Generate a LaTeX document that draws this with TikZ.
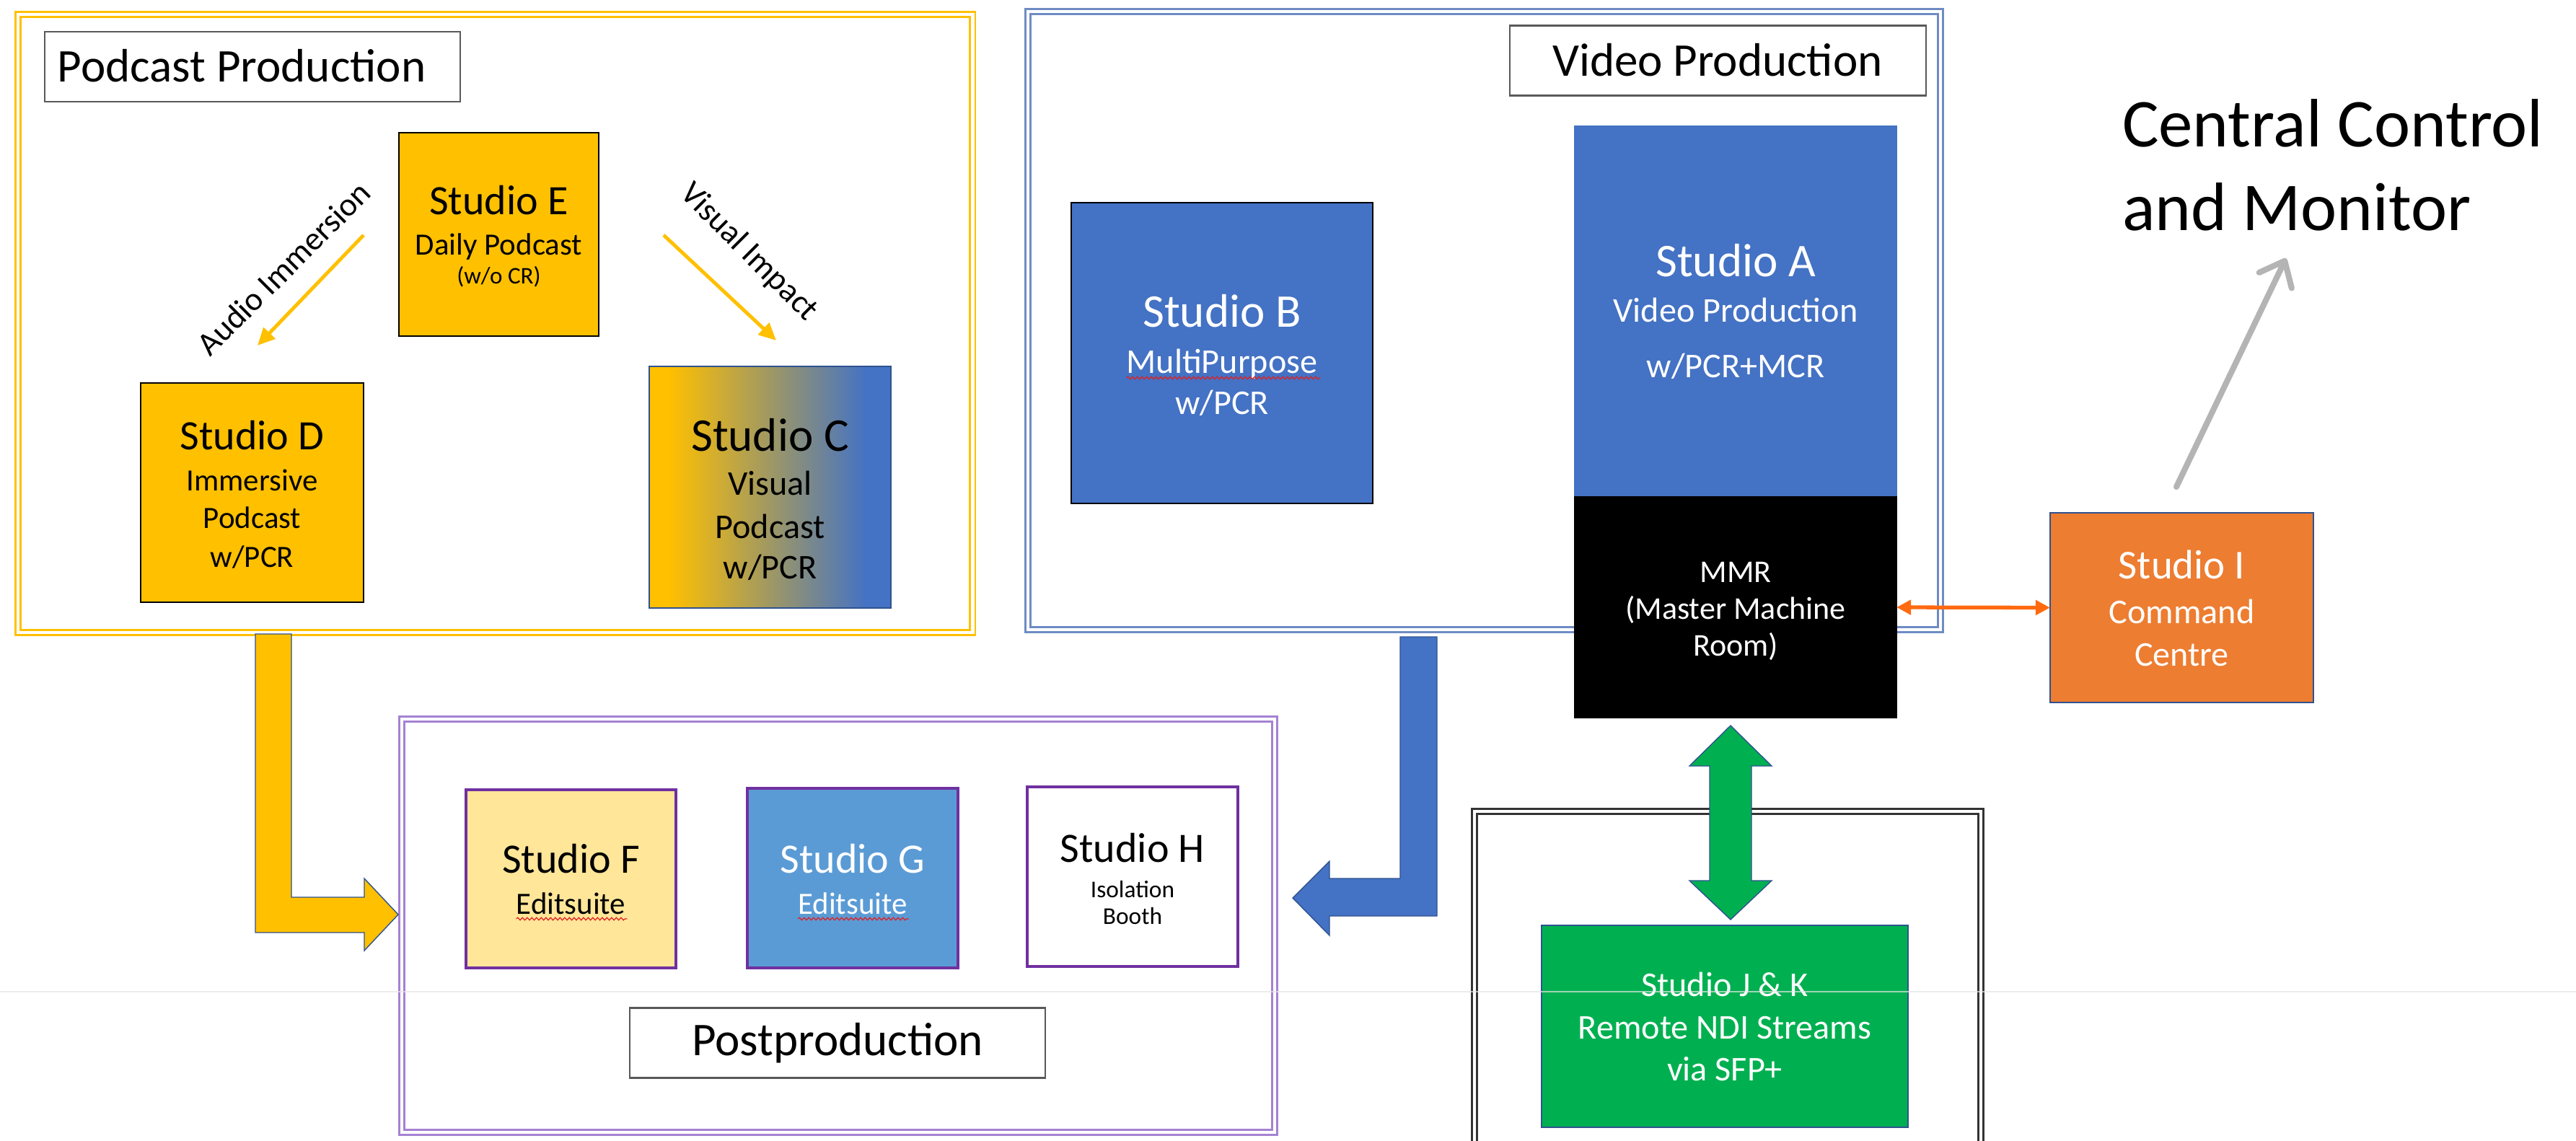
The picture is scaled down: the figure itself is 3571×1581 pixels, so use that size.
\documentclass[tikz,border=0pt]{standalone}
\usepackage{fontspec}
\setmainfont{Carlito}
\usetikzlibrary{arrows.meta,decorations.pathmorphing,calc}

\definecolor{podyellow}{HTML}{FFC000}
\definecolor{vidblue}{HTML}{4472C4}
\definecolor{edgeblue}{HTML}{2F528F}
\definecolor{editblue}{HTML}{5B9BD5}
\definecolor{editcream}{HTML}{FFE699}
\definecolor{editpurple}{HTML}{7030A0}
\definecolor{postlilac}{HTML}{A582D2}
\definecolor{vidframe}{HTML}{6F8BC4}
\definecolor{cmdorange}{HTML}{ED7D31}
\definecolor{linkorange}{HTML}{FF6A10}
\definecolor{ndigreen}{HTML}{00B050}
\definecolor{monitorgray}{HTML}{B4B4B4}
\definecolor{labelgray}{HTML}{595959}
\definecolor{squiggle}{HTML}{E02020}

% yellow-to-blue fill of the visual podcast studio (path spans 25bp..75bp)
\pgfdeclarehorizontalshading{podvis}{100bp}{color(0bp)=(podyellow); color(29bp)=(podyellow); color(70bp)=(vidblue); color(100bp)=(vidblue)}

\newcommand{\fsz}[1]{\fontsize{#1}{#1}\selectfont}

\begin{document}
\begin{tikzpicture}[x=0.01cm,y=-0.01cm,
  frame/.style={double=white, inner sep=0pt, outer sep=0pt, line width=0.8pt, double distance=1.2pt},
  room/.style={draw, inner sep=0pt, outer sep=0pt, line width=0.7pt},
  tag/.style={draw=labelgray, fill=white, line width=0.6pt, inner sep=0pt, minimum width=5.76cm, minimum height=0.97cm},
  txt/.style={inner sep=0pt, outer sep=0pt, anchor=base},
  sizeA/.style={font=\fsz{18.5pt}},
  sizeB/.style={font=\fsz{16.5pt}},
  sizeC/.style={font=\fsz{13.7pt}},
  sizeD/.style={font=\fsz{12.2pt}},
  sizeE/.style={font=\fsz{9.5pt}},
  thinarrow/.style={draw=podyellow, line width=1.4pt, -{Triangle[length=0.24cm,width=0.22cm]}},
  blockarrow/.style={draw=edgeblue, line width=0.4pt, line join=miter},
  wavy/.style={draw=squiggle, line width=0.35pt, decorate, decoration={snake, amplitude=0.018cm, segment length=0.065cm}},
]
\clip (0,0) rectangle (3571,1581);
\fill[white] (0,0) rectangle (3571,1581);

% ---------- Podcast production ----------
\node[frame, draw=podyellow, minimum width=13.23cm, minimum height=8.57cm] (podcast) at (686.5,448.5) {};
\node[tag] (podtag) at (350,92.5) {};
\node[txt, sizeA, anchor=base west] (podtagtext) at (80,113) {Podcast Production};

\node[room, draw=black, fill=podyellow, minimum width=2.77cm, minimum height=2.82cm] (E) at (691.5,325) {};
\node[txt,sizeB] (E1) at (691.5,297) {Studio E};
\node[txt,sizeD] (E2) at (691.5,353) {Daily Podcast};
\node[txt,font=\fsz{9.4pt}] (E3) at (691.5,393) {(w/o CR)};

\node[room, draw=black, fill=podyellow, minimum width=3.09cm, minimum height=3.04cm] (D) at (349.5,683) {};
\node[txt,sizeB] (D1) at (349.5,623) {Studio D};
\node[txt,sizeD] (D2) at (349.5,680) {Immersive};
\node[txt,sizeD] (D3) at (349.5,732) {Podcast};
\node[txt,sizeD] (D4) at (349.5,786) {w/PCR};

\node[room, draw=edgeblue, line width=0.5pt, shading=podvis, minimum width=3.35cm, minimum height=3.35cm] (C) at (1067.5,675.5) {};
\node[txt,sizeA] (C1) at (1067.5,625) {Studio C};
\node[txt,sizeC] (C2) at (1067.5,686) {Visual};
\node[txt,sizeC] (C3) at (1067.5,746) {Podcast};
\node[txt,sizeC] (C4) at (1067.5,802) {w/PCR};

\coordinate (ai0) at (504,326);
\coordinate (ai1) at (357,479);
\draw[thinarrow] (ai0) -- (ai1);
\node[font=\fsz{13pt}, rotate=45, inner sep=0pt] (ailabel) at (393,372) {Audio Immersion};
\coordinate (vi0) at (920,326);
\coordinate (vi1) at (1076,472);
\draw[thinarrow] (vi0) -- (vi1);
\node[font=\fsz{13pt}, rotate=-45, inner sep=0pt] (vilabel) at (1038,350) {Visual Impact};

% ---------- Video production ----------
\node[frame, draw=vidframe, minimum width=12.65cm, minimum height=8.57cm] (video) at (2057.5,444.5) {};
\node[tag] (vidtag) at (2381.5,84) {};
\node[txt,sizeA] (vidtagtext) at (2381,105) {Video Production};

\node[room, draw=black, fill=vidblue, minimum width=4.18cm, minimum height=4.17cm] (B) at (1694,489.5) {};
\node[txt,sizeA,text=white] (B1) at (1694,453) {Studio B};
\node[txt,sizeC,text=white] (B2) at (1694,517) {MultiPurpose};
\node[txt,sizeC,text=white] (B3) at (1694,574) {w/PCR};
\draw[wavy] ($(B2.base west)+(0,7)$) -- ($(B2.base east)+(4,7)$);

\node[room, draw=vidblue, fill=vidblue, minimum width=4.46cm, minimum height=5.14cm] (A) at (2406,432) {};
\node[txt,sizeA,text=white] (A1) at (2406,383) {Studio A};
\node[txt,sizeC,text=white] (A2) at (2406,446) {Video Production};
\node[txt,sizeC,text=white] (A3) at (2406,523) {w/PCR+MCR};

\node[room, draw=black, fill=black, minimum width=4.46cm, minimum height=3.06cm] (MMR) at (2406,842) {};
\node[txt,font=\fsz{12.5pt},text=white] (M1) at (2406,807) {MMR};
\node[txt,font=\fsz{12.5pt},text=white] (M2) at (2406,858) {(Master Machine};
\node[txt,font=\fsz{12.5pt},text=white] (M3) at (2406,909) {Room)};

% ---------- Command centre ----------
\node[room, draw=edgeblue, line width=0.5pt, fill=cmdorange, minimum width=3.65cm, minimum height=2.63cm] (I) at (3024.5,842.5) {};
\node[txt,font=\fsz{16.2pt},text=white] (I1) at (3024.5,802) {Studio I};
\node[txt,sizeC,text=white] (I2) at (3024.5,864) {Command};
\node[txt,sizeC,text=white] (I3) at (3024.5,923) {Centre};

\draw[draw=linkorange, line width=1.5pt, {Triangle[length=0.2cm,width=0.2cm]}-{Triangle[length=0.2cm,width=0.2cm]}] (MMR.east) -- (I.west);

\coordinate (mon0) at (3017,675);
\coordinate (mon1) at (3169,358);
\draw[monitorgray, line width=2.3pt, line cap=round, -{Straight Barb[length=0.3cm,width=0.5cm,round]}] (mon0) -- (mon1);
\node[txt, font=\fsz{27pt}, anchor=base west] (cc1) at (2942,203) {Central Control};
\node[txt, font=\fsz{27pt}, anchor=base west] (cc2) at (2942,319) {and Monitor};

% ---------- Postproduction ----------
\node[frame, draw=postlilac, minimum width=12.10cm, minimum height=5.73cm] (post) at (1162,1283.5) {};
\node[room, draw=editpurple, line width=1.2pt, fill=editcream, minimum width=2.91cm, minimum height=2.47cm] (F) at (791.5,1218.5) {};
\node[txt,sizeB] (F1) at (791.5,1210) {Studio F};
\node[txt,sizeD] (F2) at (791.5,1267) {Editsuite};
\draw[wavy] ($(F2.base west)+(0,7)$) -- ($(F2.base east)+(2,7)$);

\node[room, draw=editpurple, line width=1.2pt, fill=editblue, minimum width=2.92cm, minimum height=2.49cm] (G) at (1182,1217.5) {};
\node[txt,sizeB,text=white] (G1) at (1182,1210) {Studio G};
\node[txt,sizeD,text=white] (G2) at (1182,1267) {Editsuite};
\draw[wavy] ($(G2.base west)+(0,7)$) -- ($(G2.base east)+(2,7)$);

\node[room, draw=editpurple, line width=1.2pt, fill=white, minimum width=2.92cm, minimum height=2.49cm] (H) at (1570,1215.5) {};
\node[txt,sizeB] (H1) at (1570,1195) {Studio H};
\node[txt,sizeE] (H2) at (1570,1244) {Isolation};
\node[txt,sizeE] (H3) at (1570,1281) {Booth};

\node[tag] (posttag) at (1161,1446) {};
\node[txt,sizeA] (posttagtext) at (1161,1463) {Postproduction};

% ---------- Remote streams ----------
\node[frame, draw=black!80, minimum width=7.02cm, minimum height=6cm] (remote) at (2395,1425) {};
\node[room, draw=edgeblue, line width=0.5pt, fill=ndigreen, minimum width=5.08cm, minimum height=2.80cm] (JK) at (2391,1423) {};
\node[txt,sizeC,text=white] (JK1) at (2391,1381) {Studio J \& K};
\node[txt,sizeC,text=white] (JK2) at (2391,1440) {Remote NDI Streams};
\node[txt,sizeC,text=white] (JK3) at (2391,1498) {via SFP+};

% ---------- block arrows ----------
\draw[blockarrow, fill=podyellow] (354,879) -- (404,879) -- (404,1244) -- (505,1244) -- (505,1218)
  -- (552,1268) -- (505,1318) -- (505,1293) -- (354,1293) -- cycle;
\draw[blockarrow, fill=vidblue] (1941,883) -- (1992,883) -- (1992,1270) -- (1843,1270) -- (1843,1297)
  -- (1792,1245) -- (1843,1194) -- (1843,1218) -- (1941,1218) -- cycle;
\draw[blockarrow, fill=ndigreen] (2399,1006) -- (2456,1062) -- (2428,1062) -- (2428,1221) -- (2456,1221)
  -- (2399,1275) -- (2342,1221) -- (2370,1221) -- (2370,1062) -- (2342,1062) -- cycle;

% faint rule across the sheet
\draw[gray!20, line width=0.5pt, opacity=0.7] (0,1375) -- (3571,1375);
\end{tikzpicture}
\end{document}
